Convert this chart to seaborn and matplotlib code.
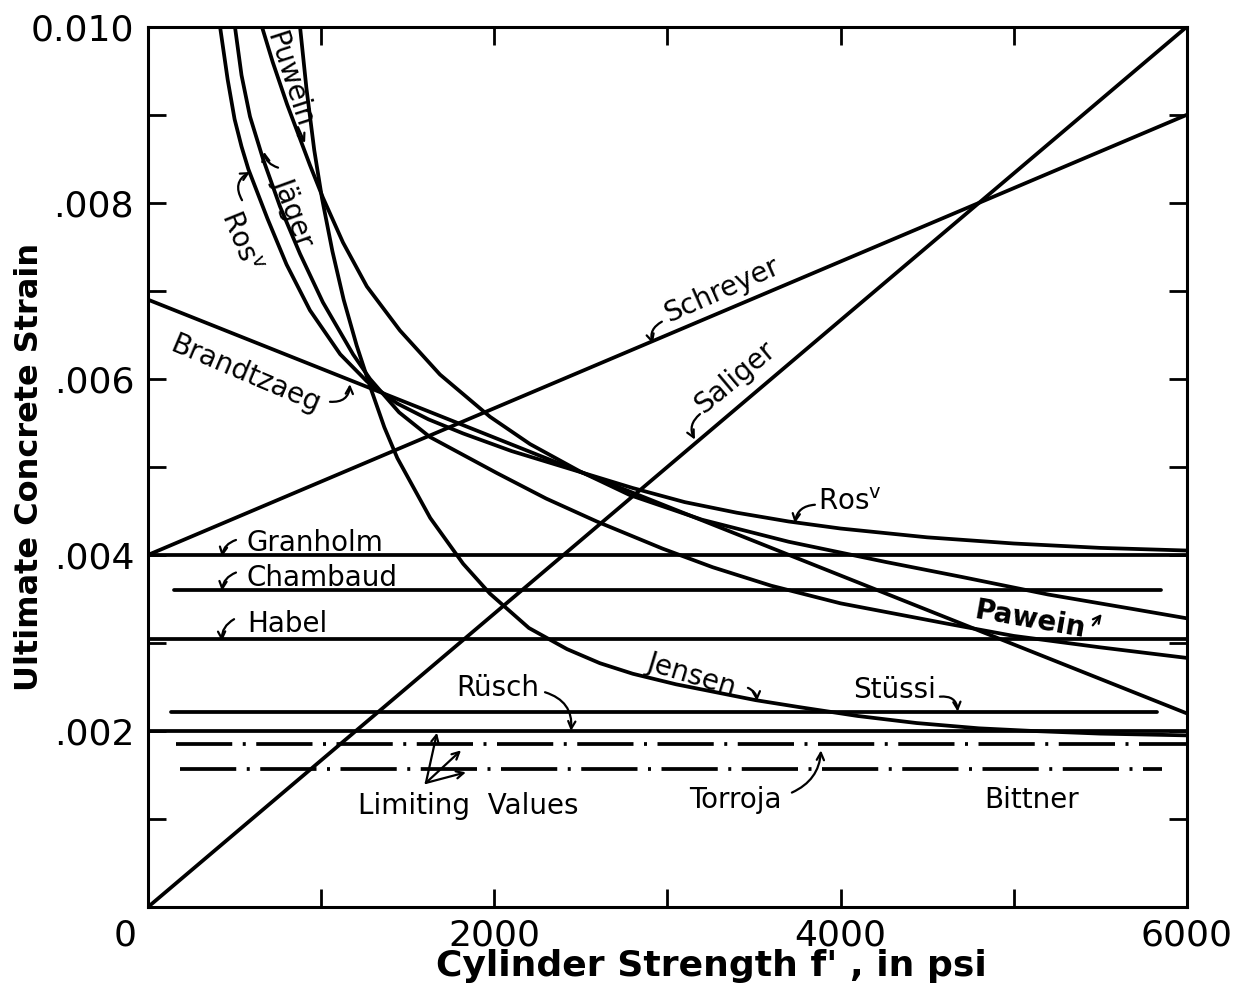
import matplotlib
matplotlib.use('Agg')
import matplotlib.pyplot as plt
import matplotlib.transforms as mtransforms
import seaborn as sns

# curves (psi, strain)
ros_psi = [416, 460, 500, 540, 580, 690, 800, 935, 1110, 1265, 1440, 1620, 1820, 2100, 2400, 2800,
           3100, 3400, 3700, 4000, 4500, 5000, 5500, 6000]
ros_strain = [0.01000, 0.00940, 0.00895, 0.00864, 0.00838, 0.00782, 0.00730, 0.00678, 0.00628, 0.00597,
              0.00572, 0.00554, 0.00538, 0.00518, 0.00500, 0.00476, 0.00460, 0.00448, 0.00438, 0.00430,
              0.00420, 0.00413, 0.00408, 0.00405]

jaeger_psi = [502, 540, 589, 664, 762, 878, 1010, 1184, 1282, 1450, 1628, 2015, 2300, 2592, 2974, 3262,
              3600, 4000, 4613, 5000, 5500, 6000]
jaeger_strain = [0.01000, 0.00945, 0.00898, 0.00850, 0.00796, 0.00742, 0.00687, 0.00628, 0.00600, 0.00562,
                 0.00534, 0.00493, 0.00464, 0.00438, 0.00407, 0.00386, 0.00365, 0.00345, 0.00322, 0.00308,
                 0.00295, 0.00283]

puwein_psi = [658, 720, 803, 935, 1010, 1126, 1264, 1455, 1686, 1975, 2206, 2494, 2783, 3200, 3700, 4261,
              4700, 5200, 5676, 6000]
puwein_strain = [0.01000, 0.00960, 0.00912, 0.00843, 0.00806, 0.00755, 0.00705, 0.00655, 0.00605, 0.00557,
                 0.00526, 0.00495, 0.00468, 0.00440, 0.00415, 0.00392, 0.00375, 0.00355, 0.00339, 0.00328]

jensen_psi = [878, 915, 960, 1005, 1065, 1130, 1205, 1285, 1365, 1440, 1630, 1820, 1975, 2200, 2420, 2610,
              2800, 3050, 3510, 3765, 4100, 4440, 4800, 5110, 5500, 6000]
jensen_strain = [0.01000, 0.00930, 0.00860, 0.00805, 0.00745, 0.00690, 0.00638, 0.00590, 0.00545, 0.00510,
                 0.00442, 0.00390, 0.00356, 0.00317, 0.00293, 0.00277, 0.00265, 0.00253, 0.00235, 0.00227,
                 0.00217, 0.00209, 0.00203, 0.00200, 0.00197, 0.00195]

# straight lines
schreyer_psi, schreyer_strain = [0, 6000], [0.0040, 0.0090]
saliger_psi, saliger_strain = [0, 6000], [0.0, 0.0100]
brandtzaeg_psi, brandtzaeg_strain = [0, 6000], [0.0069, 0.0022]

# constant values: (start psi, end psi), strain
granholm_psi, granholm_strain = [0, 6000], 0.0040
chambaud_psi, chambaud_strain = [150, 5850], 0.0036
habel_psi, habel_strain = [0, 6000], 0.00305
stussi_psi, stussi_strain = [135, 5830], 0.00222
rusch_psi, rusch_strain = [0, 6000], 0.0020
torroja_psi, torroja_strain = [160, 6000], 0.00185
bittner_psi, bittner_strain = [185, 5855], 0.00157

sns.set_theme(style='ticks')
plt.rcParams['font.family'] = ['DejaVu Sans']
plt.rcParams.update({'text.color': 'black', 'axes.labelcolor': 'black',
                     'xtick.color': 'black', 'ytick.color': 'black'})

fig = plt.figure(figsize=(12.44, 9.89), dpi=100)
ax = fig.add_axes([0.119, 0.0829, 0.835, 0.890])

LW = 2.7


def draw(x, y, **kw):
    sns.lineplot(x=x, y=y, ax=ax, color='black', lw=LW, sort=False, estimator=None, legend=False, **kw)


for px, st in [(ros_psi, ros_strain), (jaeger_psi, jaeger_strain), (puwein_psi, puwein_strain),
               (jensen_psi, jensen_strain), (schreyer_psi, schreyer_strain),
               (saliger_psi, saliger_strain), (brandtzaeg_psi, brandtzaeg_strain)]:
    draw(px, st)

for px, st in [(granholm_psi, granholm_strain), (chambaud_psi, chambaud_strain), (habel_psi, habel_strain),
               (stussi_psi, stussi_strain), (rusch_psi, rusch_strain)]:
    draw(px, [st, st])

dashdot = (0, (15, 2.8, 0.8, 2.8))
draw(torroja_psi, [torroja_strain] * 2, linestyle=dashdot)
draw(bittner_psi, [bittner_strain] * 2, linestyle=dashdot)

ax.set_xlim(0, 6000)
ax.set_ylim(0, 0.010)
ax.set_xticks([0, 2000, 4000, 6000])
ax.set_xticklabels(['0', '2000', '4000', '6000'])
ax.set_xticks([1000, 3000, 5000], minor=True)
ax.set_yticks([0.002, 0.004, 0.006, 0.008, 0.010])
ax.set_yticklabels(['.002', '.004', '.006', '.008', '0.010'])
ax.set_yticks([0.001, 0.003, 0.005, 0.007, 0.009], minor=True)
ax.tick_params(which='both', direction='in', top=True, right=True, length=13, width=2, color='black')
ax.tick_params(axis='x', labelsize=26, pad=8)
ax.tick_params(axis='y', labelsize=26, pad=10)
for sp in ax.spines.values():
    sp.set_linewidth(2.2)
    sp.set_color('black')

# the "0" sits left of the corner in the original
lbl0 = ax.get_xticklabels()[0]
lbl0.set_transform(lbl0.get_transform() + mtransforms.ScaledTranslation(-0.23, 0, fig.dpi_scale_trans))

ax.set_xlabel("Cylinder Strength f' , in psi", fontsize=26, fontweight='bold')
ax.set_ylabel('Ultimate Concrete Strain', fontsize=23, fontweight='bold')
ax.xaxis.set_label_coords(0.542, -0.048)
ax.yaxis.set_label_coords(-0.099, 0.50)

FS = 20


def label(x, y, s, rot=0, **kw):
    ax.text(x, y, s, rotation=rot, ha='center', va='center', fontsize=FS, rotation_mode='anchor', **kw)


def arrow(tail, tip, rad=0.3):
    ax.annotate('', xy=tip, xytext=tail,
                arrowprops=dict(arrowstyle='->', color='black', lw=1.6, shrinkA=0, shrinkB=0,
                                mutation_scale=13, connectionstyle=f'arc3,rad={rad}'))


label(814, 0.00940, 'Puwein', rot=-72)
arrow((866, 0.00886), (907, 0.00868), rad=0.0)
label(840, 0.00790, 'Jäger', rot=-70)
arrow((751, 0.00840), (670, 0.00858), rad=-0.3)
label(531, 0.00756, 'Ros$^{\\mathsf{v}}$', rot=-68)
arrow((543, 0.00803), (589, 0.00835), rad=-0.5)
label(560, 0.00605, 'Brandtzaeg', rot=-23)
arrow((1051, 0.00574), (1166, 0.00594), rad=0.5)
label(3315, 0.00701, 'Schreyer', rot=24)
arrow((2968, 0.00665), (2916, 0.00640), rad=0.4)
label(3390, 0.00602, 'Saliger', rot=40)
arrow((3188, 0.00560), (3159, 0.00531), rad=0.4)
label(4054, 0.00460, 'Ros$^{\\mathsf{v}}$')
arrow((3852, 0.00457), (3736, 0.00436), rad=0.4)
label(964, 0.00413, 'Granholm')
arrow((508, 0.00417), (427, 0.00398), rad=0.3)
label(1005, 0.00374, 'Chambaud')
arrow((508, 0.00380), (427, 0.00359), rad=0.3)
label(803, 0.00322, 'Habel')
arrow((497, 0.00327), (427, 0.00302), rad=0.3)
label(2021, 0.00249, 'Rüsch')
arrow((2293, 0.00244), (2443, 0.00200), rad=-0.4)
label(3141, 0.00264, 'Jensen', rot=-17)
arrow((3465, 0.00249), (3517, 0.00234), rad=-0.3)
label(4314, 0.00247, 'Stüssi')
arrow((4574, 0.00239), (4677, 0.00222), rad=-0.5)
label(5093, 0.00326, 'Pawein', rot=-10, fontweight='bold')
arrow((5457, 0.00320), (5509, 0.00333), rad=0.0)
label(1848, 0.00115, 'Limiting  Values')
for tip in [(1669, 0.00198), (1808, 0.00178), (1836, 0.00153)]:
    arrow((1605, 0.00141), tip, rad=0.0)
label(3390, 0.00122, 'Torroja')
arrow((3719, 0.00130), (3887, 0.00178), rad=0.3)
label(5105, 0.00122, 'Bittner')

fig.savefig('out.png', dpi=100, facecolor='white')
